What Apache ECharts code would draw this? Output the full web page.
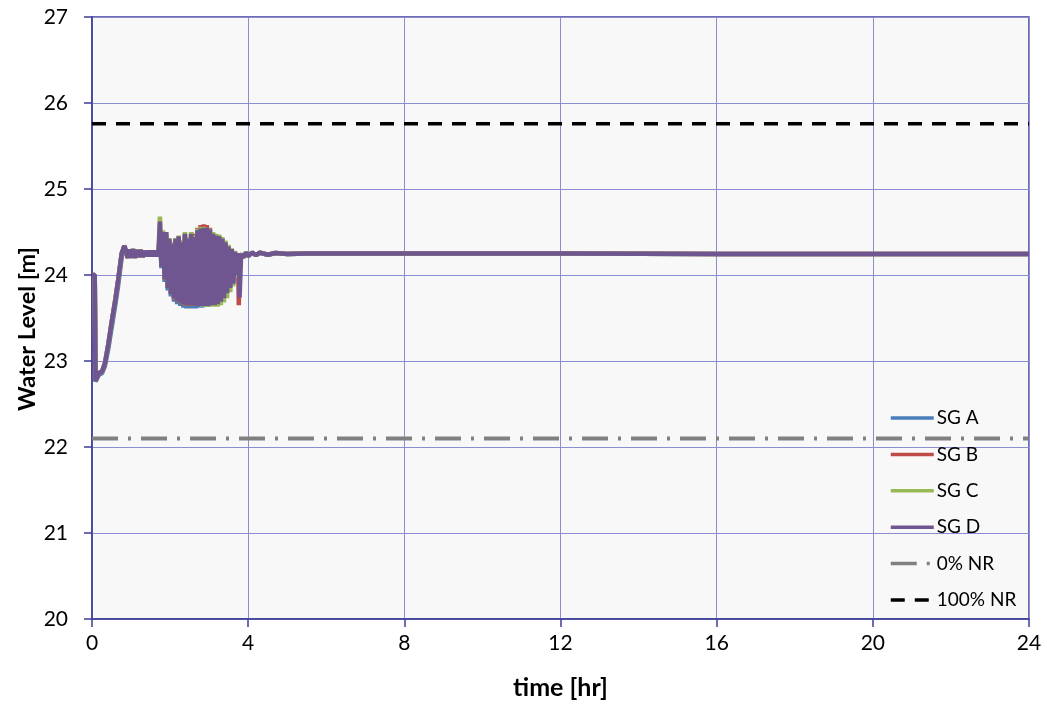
<!DOCTYPE html>
<html><head><meta charset="utf-8">
<script src="https://cdn.jsdelivr.net/npm/echarts@6/dist/echarts.min.js"></script>
<style>html,body{margin:0;padding:0;background:#fff}#c{width:1047px;height:708px}</style>
</head><body><div id="c"></div>
<script>
// ---- data ----
const seriesNames = ['SG A', 'SG B', 'SG C', 'SG D'];
const refNames = ['0% NR', '100% NR'];
const refLevels = [22.1, 25.76];
const xTicks = [0, 4, 8, 12, 16, 20, 24];
const yTicks = [20, 21, 22, 23, 24, 25, 26, 27];

const preT = [0, 0.07, 0.09, 0.12, 0.18, 0.26, 0.33, 0.42, 0.5, 0.6, 0.67, 0.76, 0.83, 0.87, 0.92, 0.95, 1.0, 1.05, 1.1, 1.15, 1.2, 1.25, 1.3, 1.35, 1.4, 1.45, 1.5, 1.55, 1.6, 1.65, 1.7];
const preA = [24.0, 24.0, 22.76, 22.79, 22.84, 22.86, 22.94, 23.15, 23.38, 23.66, 23.88, 24.2, 24.33, 24.32, 24.2, 24.3, 24.2, 24.3, 24.2, 24.29, 24.21, 24.29, 24.21, 24.28, 24.22, 24.28, 24.22, 24.28, 24.22, 24.28, 24.22];
const preB = [24.0, 24.0, 22.77, 22.8, 22.86, 22.88, 22.97, 23.2, 23.44, 23.72, 23.94, 24.25, 24.34, 24.32, 24.2, 24.29, 24.21, 24.3, 24.2, 24.29, 24.21, 24.29, 24.21, 24.28, 24.22, 24.28, 24.22, 24.28, 24.22, 24.28, 24.22];
const preC = [24.0, 24.0, 22.77, 22.8, 22.86, 22.88, 22.97, 23.2, 23.44, 23.72, 23.94, 24.25, 24.34, 24.32, 24.2, 24.3, 24.2, 24.3, 24.21, 24.29, 24.21, 24.29, 24.21, 24.28, 24.22, 24.28, 24.22, 24.28, 24.22, 24.28, 24.22];
const preD = [24.0, 24.0, 22.77, 22.8, 22.86, 22.88, 22.97, 23.2, 23.44, 23.72, 23.94, 24.25, 24.34, 24.32, 24.2, 24.3, 24.2, 24.3, 24.2, 24.29, 24.21, 24.29, 24.21, 24.28, 24.22, 24.28, 24.22, 24.28, 24.22, 24.28, 24.22];

const oscT = [1.74, 1.78, 1.82, 1.86, 1.90, 1.94, 1.98, 2.02, 2.06, 2.10, 2.14, 2.18, 2.22, 2.26, 2.30, 2.34, 2.38, 2.42, 2.46, 2.50, 2.54, 2.58, 2.62, 2.66, 2.70, 2.74, 2.78, 2.82, 2.86, 2.90, 2.94, 2.98, 3.02, 3.06, 3.10, 3.14, 3.18, 3.22, 3.26, 3.30, 3.34, 3.38, 3.42, 3.46, 3.50, 3.54, 3.58, 3.62, 3.66, 3.70];
const oscA = [24.45, 24.08, 24.45, 23.92, 24.45, 23.82, 24.4, 23.75, 24.35, 23.69, 24.4, 23.66, 24.42, 23.64, 24.36, 23.62, 24.45, 23.61, 24.4, 23.61, 24.46, 23.61, 24.42, 23.61, 24.5, 23.62, 24.52, 23.62, 24.52, 23.63, 24.52, 23.63, 24.5, 23.65, 24.45, 23.66, 24.44, 23.67, 24.42, 23.7, 24.4, 23.74, 24.35, 23.8, 24.3, 23.86, 24.28, 23.92, 24.26, 24.02];
const oscB = [24.5, 24.1, 24.48, 23.95, 24.48, 23.85, 24.4, 23.78, 24.38, 23.72, 24.42, 23.69, 24.44, 23.67, 24.4, 23.65, 24.48, 23.64, 24.44, 23.64, 24.5, 23.64, 24.48, 23.64, 24.55, 23.64, 24.58, 23.64, 24.59, 23.65, 24.58, 23.65, 24.55, 23.66, 24.48, 23.66, 24.46, 23.67, 24.44, 23.7, 24.42, 23.74, 24.37, 23.8, 24.33, 23.86, 24.29, 23.92, 24.27, 24.02];
const oscC = [24.68, 24.12, 24.52, 23.95, 24.5, 23.86, 24.43, 23.79, 24.38, 23.73, 24.43, 23.7, 24.46, 23.68, 24.4, 23.66, 24.5, 23.65, 24.44, 23.65, 24.5, 23.65, 24.46, 23.64, 24.54, 23.64, 24.56, 23.63, 24.56, 23.63, 24.55, 23.63, 24.54, 23.63, 24.5, 23.63, 24.48, 23.63, 24.47, 23.65, 24.44, 23.68, 24.4, 23.73, 24.35, 23.8, 24.31, 23.87, 24.28, 23.97];
const oscD = [24.62, 24.1, 24.5, 23.95, 24.5, 23.85, 24.42, 23.78, 24.36, 23.73, 24.42, 23.7, 24.45, 23.68, 24.38, 23.66, 24.48, 23.65, 24.42, 23.65, 24.48, 23.65, 24.44, 23.64, 24.52, 23.64, 24.54, 23.64, 24.55, 23.64, 24.55, 23.64, 24.53, 23.65, 24.48, 23.65, 24.46, 23.66, 24.45, 23.69, 24.42, 23.73, 24.38, 23.79, 24.33, 23.85, 24.3, 23.9, 24.27, 24.0];

const postT = [3.74, 3.76, 3.78, 3.82, 3.88, 3.95, 4.0, 4.1, 4.2, 4.3, 4.5, 4.7, 5.0, 5.5, 6.0, 8, 12, 16, 20, 24];
const postA = [24.25, 24.21, 24.24, 24.24, 24.21, 24.26, 24.22, 24.26, 24.23, 24.26, 24.235, 24.255, 24.245, 24.25, 24.25, 24.25, 24.25, 24.245, 24.245, 24.245];
const postB = [24.25, 23.65, 24.2, 24.24, 24.21, 24.26, 24.22, 24.26, 24.23, 24.26, 24.235, 24.255, 24.245, 24.25, 24.25, 24.25, 24.25, 24.245, 24.245, 24.245];
const postC = [24.25, 24.21, 24.24, 24.24, 24.21, 24.26, 24.22, 24.26, 24.23, 24.26, 24.235, 24.255, 24.245, 24.25, 24.25, 24.25, 24.25, 24.245, 24.245, 24.245];
const postD = [24.25, 24.2, 23.74, 24.24, 24.21, 24.26, 24.22, 24.26, 24.23, 24.26, 24.235, 24.255, 24.245, 24.25, 24.25, 24.25, 24.25, 24.245, 24.245, 24.245];

// ---- build ----
const colors = ['#4a7ebb', '#be4b48', '#98b954', '#705691'];
const pre = [preA, preB, preC, preD], osc = [oscA, oscB, oscC, oscD], post = [postA, postB, postC, postD];
function pairs(t, v) { return t.map((x, i) => [x, v[i]]); }
const font = 'Lato, "Open Sans", "DejaVu Sans", sans-serif';
const navy = '#3c3c96';
const series = seriesNames.map((n, k) => ({
  name: n, type: 'line', symbol: 'none', z: 2 + k,
  lineStyle: { color: colors[k], width: 4.5 },
  itemStyle: { color: colors[k] },
  data: pairs(preT, pre[k]).concat(pairs(oscT, osc[k]), pairs(postT, post[k]))
}));
series.push({
  name: refNames[0], type: 'line', symbol: 'none', z: 10,
  lineStyle: { color: '#808080', width: 4, type: [26, 10, 3, 10] },
  itemStyle: { color: '#808080' },
  data: [[xTicks[0], refLevels[0]], [xTicks[xTicks.length - 1], refLevels[0]]]
});
series.push({
  name: refNames[1], type: 'line', symbol: 'none', z: 10,
  lineStyle: { color: '#000', width: 3.5, type: [14, 10] },
  itemStyle: { color: '#000' },
  data: [[xTicks[0], refLevels[1]], [xTicks[xTicks.length - 1], refLevels[1]]]
});

const chart = echarts.init(document.getElementById('c'));
chart.setOption({
  animation: false,
  backgroundColor: '#fff',
  grid: { left: 92, right: 18, top: 17, bottom: 89, containLabel: false, outerBoundsMode: 'none', show: true, backgroundColor: '#f8f8f8', borderColor: navy, borderWidth: 1.5 },
  legend: {
    orient: 'vertical', left: 884, top: 403.5, itemWidth: 43, itemHeight: 14, itemGap: 17.4,
    itemStyle: { opacity: 0 },
    lineStyle: { width: 3.5 },
    textStyle: { fontFamily: font, fontSize: 19, color: '#000', padding: [0, 0, 0, -2] },
    data: seriesNames.concat(refNames)
  },
  xAxis: {
    type: 'value', min: xTicks[0], max: xTicks[xTicks.length - 1], interval: 4,
    name: 'time [hr]', nameLocation: 'middle', nameGap: 56, nameMoveOverlap: false,
    nameTextStyle: { fontFamily: font, fontSize: 25, fontWeight: 'bold', color: '#000' },
    axisLine: { lineStyle: { color: navy, width: 1.5 } },
    axisTick: { show: true, inside: false, length: 8, lineStyle: { color: navy, width: 1.5 } },
    axisLabel: { fontFamily: font, fontSize: 21, color: '#000', margin: 14 },
    splitLine: { show: true, lineStyle: { color: '#8c8cd2', width: 1 } }
  },
  yAxis: {
    type: 'value', min: yTicks[0], max: yTicks[yTicks.length - 1], interval: 1,
    name: 'Water Level [m]', nameLocation: 'middle', nameGap: 53, nameMoveOverlap: false,
    nameTextStyle: { fontFamily: font, fontSize: 23.5, fontWeight: 'bold', color: '#000', padding: [0, 22, 0, 0] },
    axisLine: { show: true, lineStyle: { color: navy, width: 1.5 } },
    axisTick: { show: true, inside: false, length: 8, lineStyle: { color: navy, width: 1.5 } },
    axisLabel: { fontFamily: font, fontSize: 21, color: '#000', margin: 24 },
    splitLine: { show: true, lineStyle: { color: '#8c8cd2', width: 1 } }
  },
  series: series
});
</script></body></html>
